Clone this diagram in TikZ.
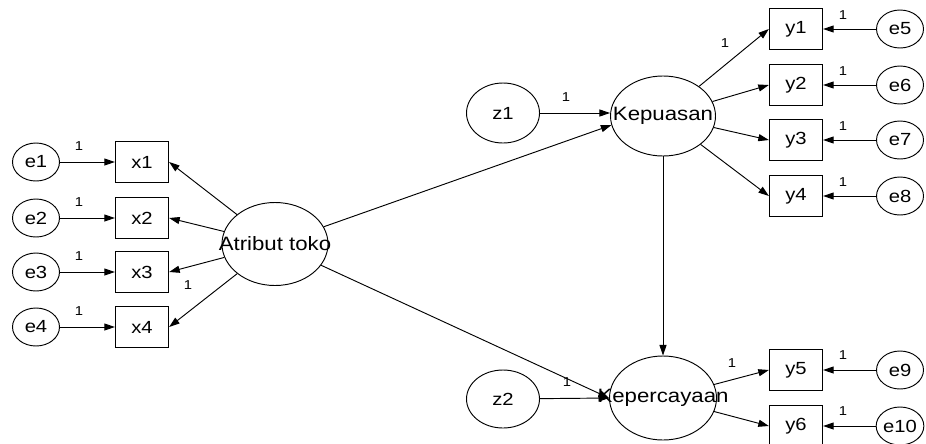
\documentclass[tikz,border=0pt]{standalone}
\usepackage{fontspec}
\setmainfont[FakeStretch=1.15]{Liberation Sans}
\usetikzlibrary{arrows.meta, shapes.geometric}
\newcommand{\ctext}[1]{\makebox[0pt]{#1}}

\begin{document}
\begin{tikzpicture}[x=0.03cm, y=-0.03cm, >={Triangle[length=9pt,width=6pt]},
    line width=0.8pt,
    errvar/.style={draw, ellipse, inner sep=0pt, minimum width=1.41cm,
      minimum height=1.14cm, font=\fontsize{15}{17}\selectfont},
    observed/.style={draw, rectangle, inner sep=0pt, minimum width=1.6cm,
      minimum height=1.25cm, font=\fontsize{15}{17}\selectfont},
    latent/.style={draw, ellipse, inner sep=0pt,
      font=\fontsize{16.5}{19}\selectfont},
    lbl/.style={inner sep=0pt, font=\fontsize{11}{13}\selectfont}]
  \useasboundingbox (0,0) rectangle (926,443);

  % latent variables
  \node[latent, minimum width=3.18cm, minimum height=2.49cm] (atr) at (275,244) {\ctext{Atribut toko}};
  \node[latent, minimum width=3.15cm, minimum height=2.4cm] (kps) at (663,116) {\ctext{Kepuasan}};
  \node[latent, minimum width=3.21cm, minimum height=2.52cm] (kpc) at (663,398) {\ctext{Kepercayaan}};
  \node[latent, minimum width=2.19cm, minimum height=1.8cm, font=\fontsize{15}{17}\selectfont] (z1) at (503,113) {z1};
  \node[latent, minimum width=2.19cm, minimum height=1.74cm, font=\fontsize{15}{17}\selectfont] (z2) at (503,399) {z2};

  % indicators of Atribut toko
  \foreach \i/\yy in {1/162,2/218,3/272,4/327}{
    \node[errvar] (e\i) at (36,\yy) {e\i};
    \node[observed] (x\i) at (142,\yy) {x\i};
    \draw[->] (e\i) -- (x\i);
    \node[lbl] (le\i) at (79,{\yy-16}) {1};
    \draw[->] (atr) -- (x\i.east);
  }
  \node[lbl] (lx4) at (188,285) {1};

  % indicators of Kepuasan
  \foreach \i/\e/\yy in {1/5/29,2/6/85,3/7/140,4/8/196}{
    \node[observed] (y\i) at (796,\yy) {y\i};
    \node[errvar] (e\e) at (900,\yy) {e\e};
    \draw[->] (e\e) -- (y\i);
    \node[lbl] (le\e) at (843,{\yy-14}) {1};
    \draw[->] (kps) -- (y\i.west);
  }
  \node[lbl] (ly1) at (725,43) {1};

  % indicators of Kepercayaan
  \foreach \i/\e/\yy in {5/9/370,6/10/426}{
    \node[observed] (y\i) at (796,\yy) {y\i};
    \node[errvar] (e\e) at (900,\yy) {e\e};
    \draw[->] (e\e) -- (y\i);
    \node[lbl] (le\e) at (843,{\yy-15}) {1};
    \draw[->] (kpc) -- (y\i.west);
  }
  \node[lbl] (ly5) at (732,363) {1};

  % structural paths
  \draw[->] (z1) -- (kps.west |- z1);
  \node[lbl] (lz1) at (566,97) {1};
  \draw[->] (atr) -- (kps.190);
  \draw[->] (kps) -- (kpc);
  \draw[->] (z2) -- (kpc.west);
  \draw[->] (atr) -- (kpc.west);
  \node[lbl] (lz2) at (567,382) {1};
\end{tikzpicture}
\end{document}
